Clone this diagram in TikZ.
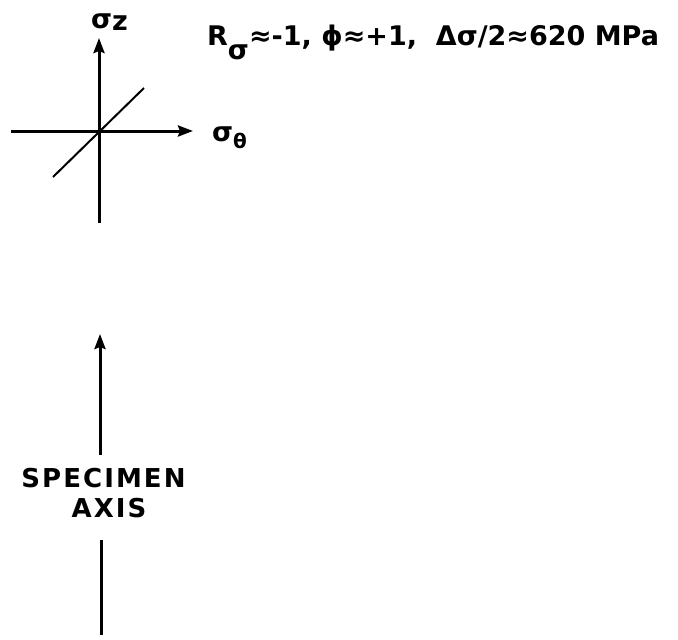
\documentclass[tikz,border=0pt]{standalone}
\usepackage{fontspec}
\setmainfont{DejaVu Sans}[BoldFont={DejaVu Sans Bold}]
\usetikzlibrary{arrows.meta}
\newfontfamily\lett[LetterSpace=8]{DejaVu Sans Bold}
\newfontfamily\lettb{DejaVu Sans Bold}
\begin{document}
\begin{tikzpicture}[x=1pt,y=-1pt,
  axisline/.style={line width=3pt},
  arrowtip/.style={-{Stealth[length=15pt,width=11pt,inset=2pt]}},
  lbl/.style={inner sep=0pt,font=\lettb\fontsize{27}{30}\selectfont}]
\useasboundingbox (0,0) rectangle (678,640);
% upper axes
\coordinate (O) at (99,131);
\coordinate (zt) at (99,38);
\coordinate (zb) at (99,223);
\coordinate (tl) at (11,131);
\coordinate (tr) at (193,131);
\coordinate (dl) at (53,177);
\coordinate (dr) at (144,88);
\draw[axisline,arrowtip] (zb) -- (zt);
\draw[axisline,arrowtip] (tl) -- (tr);
\draw[line width=2pt] (dl) -- (dr);
\node[lbl,anchor=base west] (sz) at (91,28) {σ\raisebox{-2pt}{z}};
\node[lbl,anchor=base west] (st) at (212,141) {σ\raisebox{-7pt}{\fontsize{20}{22}\selectfont θ}};
% title
\node[lbl,anchor=base west] (title) at (207,45)
  {R\raisebox{-14pt}{σ}≈-1, ϕ≈+1, \ Δσ/2≈620 MPa};
% specimen axis
\coordinate (st1) at (100,334);
\coordinate (sb1) at (100,455);
\coordinate (st2) at (101,540);
\coordinate (sb2) at (101,635);
\draw[axisline,arrowtip] (sb1) -- (st1);
\draw[axisline] (st2) -- (sb2);
\node[inner sep=0pt,anchor=base,font=\lett\fontsize{26}{30}\selectfont] (spec) at (103.5,487) {SPECIMEN};
\node[inner sep=0pt,anchor=base,font=\lett\fontsize{26}{30}\selectfont] (axis) at (109,517) {AXIS};
\end{tikzpicture}
\end{document}
